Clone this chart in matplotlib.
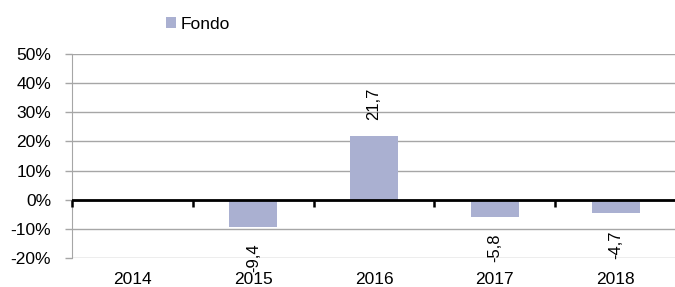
import numpy as np
import matplotlib
matplotlib.use('Agg')
import matplotlib.pyplot as plt

plt.rcParams['font.family'] = ['Liberation Sans', 'DejaVu Sans']

years = ['2014', '2015', '2016', '2017', '2018']
fondo = [np.nan, -9.4, 21.7, -5.8, -4.7]
yticks = [-20, -10, 0, 10, 20, 30, 40, 50]

bar_color = '#aab0d1'
grid_color = '#a6a6a6'
fs = 12.5

fig = plt.figure(figsize=(6.75, 2.87), dpi=100)
ax = fig.add_axes([0.1067, 0.101, 0.895, 0.711])

x = np.arange(len(years))
vals = np.array(fondo, dtype=float)
bars = ax.bar(x, np.nan_to_num(vals), width=0.4, color=bar_color, label='Fondo', zorder=2)

ax.set_xlim(-0.5, len(years) - 0.5)
ax.set_ylim(-20, 50)
ax.set_yticks(yticks)
ax.set_yticklabels([f'{t}%' for t in yticks], fontsize=fs)
ax.set_xticks(x)
ax.set_xticklabels(years, fontsize=fs)
ax.tick_params(axis='x', length=0, pad=10)
ax.tick_params(axis='y', length=5, color=grid_color, width=1, pad=10)
ax.grid(axis='y', color=grid_color, linewidth=1, zorder=0)

for s in ['top', 'right', 'bottom']:
    ax.spines[s].set_visible(False)
ax.spines['left'].set_color(grid_color)

# zero line with category separators
ax.axhline(0, color='black', linewidth=2, zorder=3)
bounds = np.arange(len(years) + 1) - 0.5
ax.plot(bounds, np.zeros_like(bounds), linestyle='none', marker=3,
        markersize=5, markeredgewidth=1.8, color='black', zorder=3, clip_on=False)

for xi, v in zip(x, vals):
    if np.isnan(v):
        continue
    off = 12 if v > 0 else -12
    ax.annotate(f'{v:.1f}'.replace('.', ','), (xi, v), xytext=(0, off),
                textcoords='offset points', rotation=90, ha='center',
                va='bottom' if v > 0 else 'top', fontsize=12, zorder=4)

fig.legend(handles=[bars], labels=['Fondo'], loc='center',
           bbox_to_anchor=(0.293, 0.916), frameon=False, fontsize=fs,
           handlelength=0.6, handleheight=0.6, handletextpad=0.25)

fig.savefig('out.png', dpi=100)
